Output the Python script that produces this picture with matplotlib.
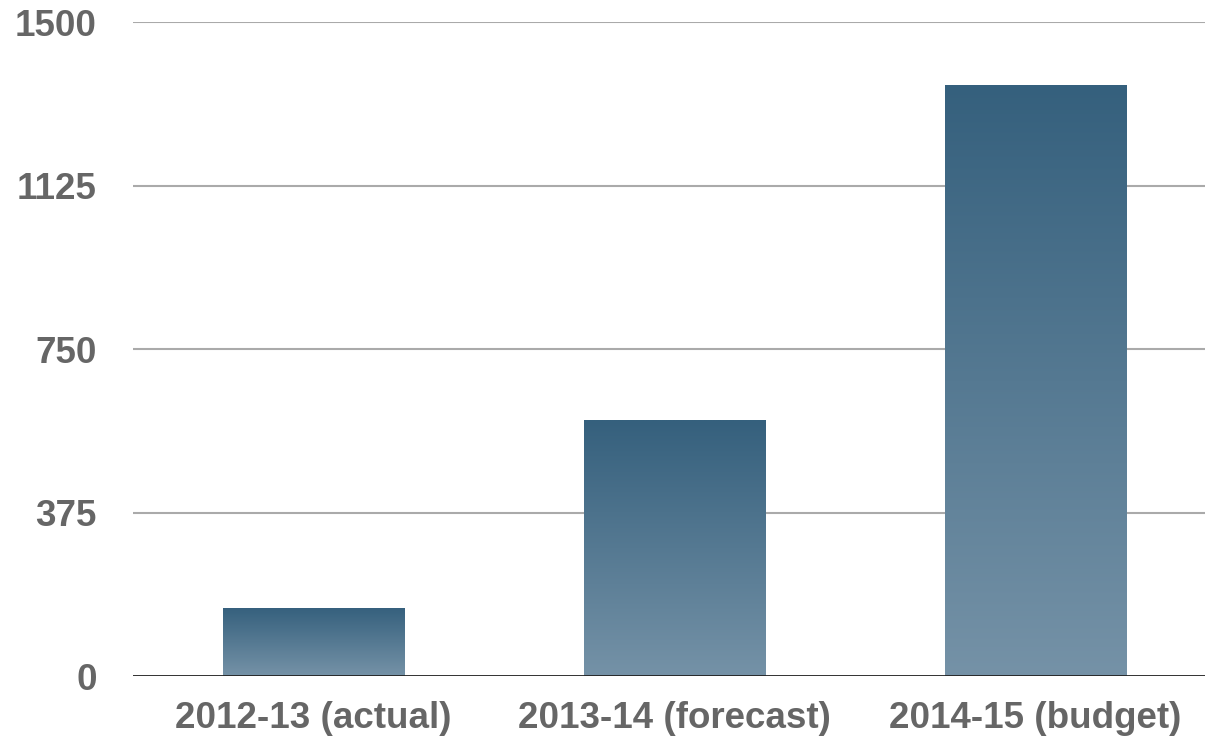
import numpy as np
import matplotlib.pyplot as plt
from matplotlib.colors import LinearSegmentedColormap

categories = ['2012-13 (actual)', '2013-14 (forecast)', '2014-15 (budget)']
values = [156, 587, 1355]
yticks = [0, 375, 750, 1125, 1500]

plt.rcParams['font.family'] = ['Liberation Sans', 'DejaVu Sans']

fig = plt.figure(figsize=(12.05, 7.38), dpi=100)
ax = fig.add_axes([0.1104, 0.084, 0.8896, 0.886])

# gradient from dark top to lighter bottom
cmap = LinearSegmentedColormap.from_list('bar', ['#7592a7', '#35607d'])
grad = np.linspace(0, 1, 256).reshape(-1, 1)

x = np.arange(len(categories))
width = 0.503
bars = ax.bar(x, values, width=width, color='none', edgecolor='none', zorder=3)
for b in bars:
    x0, y0 = b.get_x(), b.get_y()
    w, h = b.get_width(), b.get_height()
    img = ax.imshow(grad, extent=[x0, x0 + w, y0, y0 + h], origin='lower',
                    cmap=cmap, aspect='auto', zorder=3)
    img.set_clip_path(b)

ax.set_xlim(-0.5, 2.47)
ax.set_ylim(0, 1500)
ax.set_yticks(yticks)
ax.set_xticks(x)
ax.set_xticklabels(categories)

for y in yticks[1:]:
    ax.axhline(y, color='#aaaaaa', linewidth=1.5, zorder=1)
ax.axhline(0, color='#222222', linewidth=1.3, zorder=4)

for s in ax.spines.values():
    s.set_visible(False)
ax.tick_params(axis='both', length=0, labelsize=26.5, labelcolor='#666666')
ax.tick_params(axis='y', pad=26)
ax.tick_params(axis='x', pad=18)
for lbl in ax.get_xticklabels() + ax.get_yticklabels():
    lbl.set_fontweight('bold')

fig.savefig('out.png', dpi=100)
